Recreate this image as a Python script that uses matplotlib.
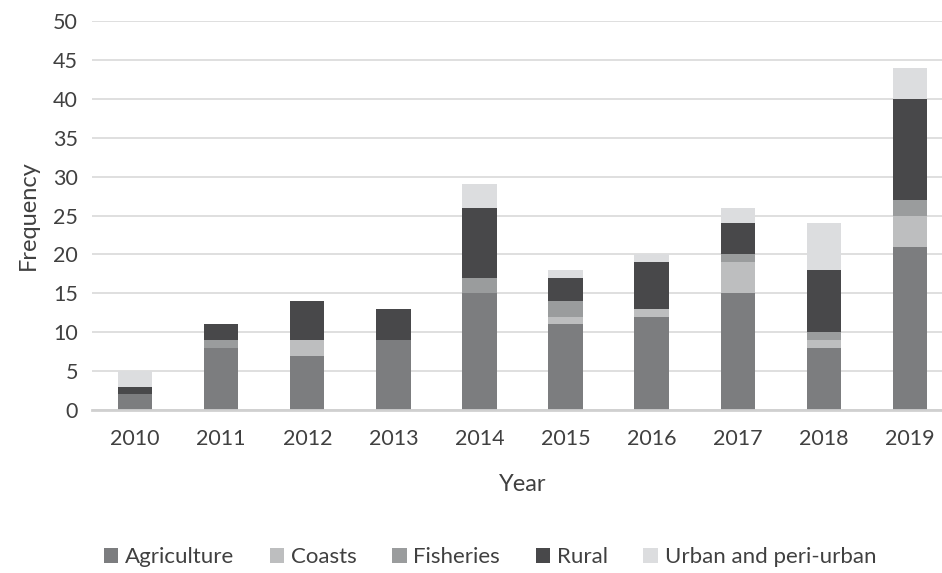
import numpy as np
import matplotlib.pyplot as plt

plt.rcParams['font.family'] = ['Lato', 'DejaVu Sans']

years = ['2010', '2011', '2012', '2013', '2014', '2015', '2016', '2017', '2018', '2019']
agriculture = [2, 8, 7, 9, 15, 11, 12, 15, 8, 21]
coasts = [0, 0, 2, 0, 0, 1, 1, 4, 1, 4]
fisheries = [0, 1, 0, 0, 2, 2, 0, 1, 1, 2]
rural = [1, 2, 5, 4, 9, 3, 6, 4, 8, 13]
urban = [2, 0, 0, 0, 3, 1, 1, 2, 6, 4]

series = [('Agriculture', agriculture, '#7c7d7f'),
          ('Coasts', coasts, '#bdbebf'),
          ('Fisheries', fisheries, '#9a9c9d'),
          ('Rural', rural, '#48484a'),
          ('Urban and peri-urban', urban, '#dcdddf')]

fig = plt.figure(figsize=(9.42, 5.73), dpi=100)
ax = fig.add_axes([92/942, 1-410/573, 861/942, 389/573])

x = np.arange(len(years))
bottom = np.zeros(len(years))
for name, vals, col in series:
    ax.bar(x, vals, width=0.4, bottom=bottom, color=col, label=name, zorder=3)
    bottom += np.array(vals)

ax.set_xlim(-0.5, 9.5)
ax.set_ylim(0, 50)
ax.set_yticks(range(0, 51, 5))
ax.set_xticks(x)
ax.set_xticklabels(years)
ax.yaxis.grid(True, color='#d9d9d9', linewidth=1.2, zorder=0)
for s in ['top', 'right', 'left']:
    ax.spines[s].set_visible(False)
ax.spines['bottom'].set_color('#d0d0d0')
ax.spines['bottom'].set_linewidth(2)
ax.spines['bottom'].set_zorder(4)
ax.tick_params(axis='both', length=0, labelsize=15.5, colors='#404040', pad=10)
ax.tick_params(axis='x', pad=14)
ax.set_xlabel('Year', fontsize=17, color='#404040', labelpad=18)
ax.set_ylabel('Frequency', fontsize=17, color='#404040', labelpad=10)

fig.legend(loc='center', bbox_to_anchor=(490/942, 1-557/573), ncol=5, frameon=False,
           fontsize=16, handlelength=0.65, handleheight=0.65, handletextpad=0.3,
           columnspacing=1.6, labelcolor='#404040')

plt.savefig('out.png', dpi=100)
